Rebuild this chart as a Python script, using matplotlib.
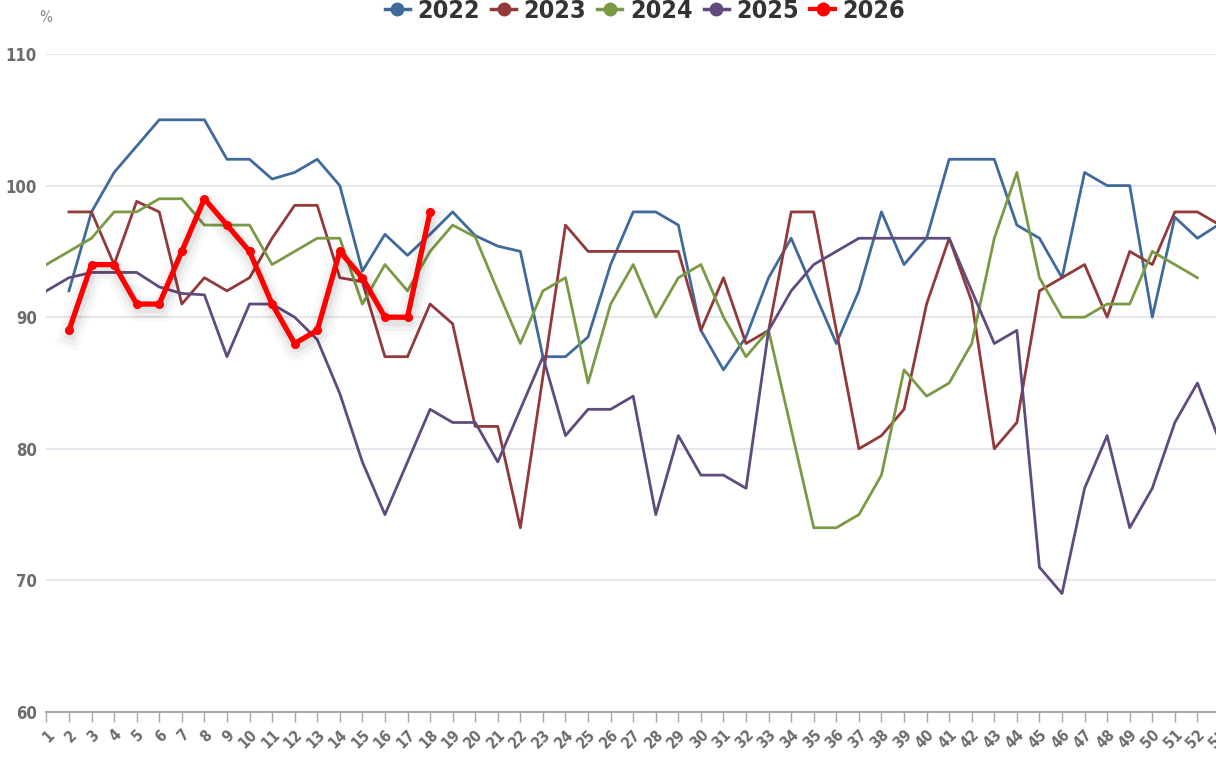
import numpy as np
import matplotlib
matplotlib.use("Agg")
import matplotlib.pyplot as plt
import matplotlib.patheffects as pe
from matplotlib.lines import Line2D

plt.rcParams['font.family'] = ['DejaVu Sans']
plt.rcParams['font.stretch'] = 'condensed'

weeks = list(range(1, 54))

# weekly values (%), None = no data
y2022 = [None, 92, 98, 101, 103, 105, 105, 105, 102, 102, 100.5, 101, 102, 100, 93.5, 96.3, 94.7, 96.3,
         98, 96.2, 95.4, 95, 87, 87, 88.5, 94, 98, 98, 97, 89, 86, 88.5, 93, 96, 92, 88, 92, 98, 94, 96,
         102, 102, 102, 97, 96, 93, 101, 100, 100, 90, 97.6, 96, 97.1]
y2023 = [None, 98, 98, 94, 98.8, 98, 91, 93, 92, 93, 96, 98.5, 98.5, 93, 92.7, 87, 87, 91,
         89.5, 81.7, 81.7, 74, 85.5, 97, 95, 95, 95, 95, 95, 89, 93, 88, 89, 98, 98, 89, 80, 81, 83, 91,
         96, 91.2, 80, 82, 92, 93, 94, 90, 95, 94, 98, 98, 97]
y2024 = [94, 95, 96, 98, 98, 99, 99, 97, 97, 97, 94, 95, 96, 96, 91, 94, 92, 95,
         97, 96.1, 92, 88, 92, 93, 85, 91, 94, 90, 93, 94, 90, 87, 89, 81.5, 74, 74, 75, 78, 86, 84,
         85, 88, 96, 101, 93, 90, 90, 91, 91, 95, 94, 93, None]
y2025 = [92, 93, 93.4, 93.4, 93.4, 92.3, 91.8, 91.7, 87, 91, 91, 90, 88.3, 84.2, 79, 75, 79, 83,
         82, 82, 79, 83, 87, 81, 83, 83, 84, 75, 81, 78, 78, 77, 89, 92, 94, 95, 96, 96, 96, 96,
         96, 92, 88, 89, 71, 69, 77, 81, 74, 77, 82, 85, 80.5]
y2026 = [None, 89, 94, 94, 91, 91, 95, 99, 97, 95, 91, 88, 89, 95, 93, 90, 90, 98]

series = [("2022", y2022, "#3f6a9b"), ("2023", y2023, "#93393a"),
          ("2024", y2024, "#7b9a45"), ("2025", y2025, "#5f4b7d")]


def arr(v):
    return np.array([np.nan if x is None else x for x in v], dtype=float)


fig = plt.figure(figsize=(12.16, 7.61), dpi=100)
ax = fig.add_axes([46.4 / 1216, 1 - 712 / 761, (1220 - 46.4) / 1216, (712 - 54) / 761])

for name, vals, col in series:
    ax.plot(weeks[:len(vals)], arr(vals), color=col, lw=2.0)

# 2026 with a soft shadow under the line
shadow = [pe.Stroke(linewidth=18, foreground='#000000', alpha=0.025, offset=(1, -4)),
          pe.Stroke(linewidth=12, foreground='#000000', alpha=0.035, offset=(1, -4)),
          pe.Stroke(linewidth=7, foreground='#000000', alpha=0.05, offset=(1, -3)),
          pe.Normal()]
x26 = weeks[:len(y2026)]
ax.plot(x26, arr(y2026), color='#ff0000', lw=3.8, path_effects=shadow, zorder=5)
ax.plot(x26, arr(y2026), color='#ff0000', lw=0, marker='o', markersize=5.5, zorder=6)

ax.set_xlim(1, 53)
ax.set_ylim(60, 110)
ax.set_yticks(range(60, 111, 10))
ax.set_xticks(weeks)
ax.set_xticklabels([str(w) for w in weeks], rotation=45, ha='right', rotation_mode='anchor',
                   fontsize=11, fontweight='bold', color='#6b6b6b')
for lab in ax.get_yticklabels():
    lab.set_fontsize(12)
    lab.set_fontweight('bold')
    lab.set_color('#6b6b6b')
ax.grid(axis='y', color='#e6e6ee', lw=1.5)
ax.set_axisbelow(True)
for s in ['top', 'right', 'left']:
    ax.spines[s].set_visible(False)
ax.spines['bottom'].set_color('#a8a8a8')
ax.spines['bottom'].set_linewidth(1.5)
ax.tick_params(axis='y', length=0, pad=7)
ax.tick_params(axis='x', length=7, color='#a8a8a8', width=1, pad=4)

fig.text(46 / 1216, 1 - 18 / 761, "%", fontsize=11, color='#8a8a8a', ha='center', va='center')

hs = [Line2D([], [], color=c, lw=2.5, marker='o', markersize=9) for _, _, c in series]
hs.append(Line2D([], [], color='#ff0000', lw=3, marker='o', markersize=9))
leg = fig.legend(hs, ["2022", "2023", "2024", "2025", "2026"], loc='center',
                 bbox_to_anchor=(645 / 1216, 1 - 11 / 761), ncol=5, frameon=False,
                 prop={'size': 18, 'weight': 'bold', 'stretch': 'condensed', 'family': 'DejaVu Sans'},
                 handlelength=1.0, handletextpad=0.3, columnspacing=0.45, borderpad=0)
for t in leg.get_texts():
    t.set_color('#333333')

fig.savefig("out.png", dpi=100)
